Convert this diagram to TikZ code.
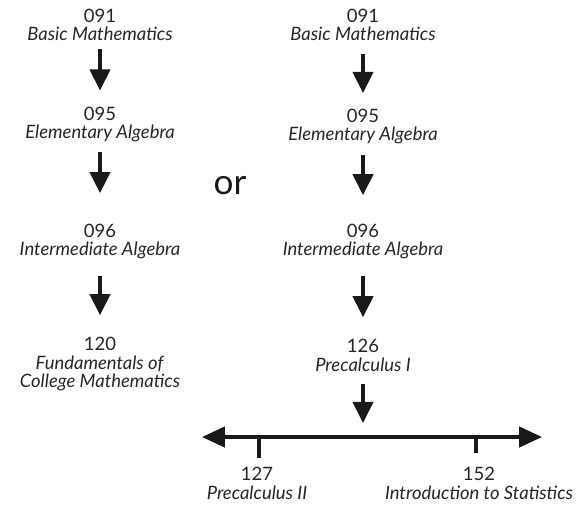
\documentclass[tikz,border=0pt]{standalone}
\usepackage{fontspec}
\setmainfont{Lato}
\usepackage{tikz}
\usetikzlibrary{arrows.meta,positioning,calc}
\tikzset{
  course/.style={
    anchor=north, align=center, inner sep=0pt,
    font=\fontsize{10.5}{10.4}\selectfont, text=black!85
  },
  flow/.style={-{Triangle[length=12pt,width=11.5pt]}, line width=2.1pt, color=black!90},
  track/.style={{Triangle[length=13pt,width=11.5pt]}-{Triangle[length=13pt,width=11.5pt]},
    line width=2pt, color=black!90},
  tickmark/.style={line width=2pt, color=black!90},
}
\newcommand{\crs}[2]{#1\\\textit{#2}}

\begin{document}
\begin{tikzpicture}[x=0.02cm, y=-0.02cm]
  \useasboundingbox (0,0) rectangle (584,508);

  % Left sequence
  \node[course] (l091) at (100,9)   {\crs{091}{Basic Mathematics}};
  \node[course] (l095) at (100,107) {\crs{095}{Elementary Algebra}};
  \node[course] (l096) at (100,224) {\crs{096}{Intermediate Algebra}};
  \node[course] (l120) at (100,337) {120\\\textit{Fundamentals of}\\\textit{College Mathematics}};

  \draw[flow, shorten <=4.5pt, shorten >=9.4pt]  (l091) -- (l095);
  \draw[flow, shorten <=5.5pt, shorten >=17.6pt] (l095) -- (l096);
  \draw[flow, shorten <=9.5pt, shorten >=12.4pt] (l096) -- (l120);

  \node[font=\fontsize{20}{24}\selectfont, text=black!90] (or) at (230,186) {or};

  % Right sequence
  \node[course] (r091) at (363,9)   {\crs{091}{Basic Mathematics}};
  \node[course] (r095) at (363,109) {\crs{095}{Elementary Algebra}};
  \node[course] (r096) at (363,224) {\crs{096}{Intermediate Algebra}};
  \node[course] (r126) at (363,339) {\crs{126}{Precalculus I}};

  \draw[flow, shorten <=7pt,   shorten >=9.1pt]  (r091) -- (r095);
  \draw[flow, shorten <=5.8pt, shorten >=16.4pt] (r095) -- (r096);
  \draw[flow, shorten <=9.5pt, shorten >=12.4pt] (r096) -- (r126);

  % Branch line
  \coordinate (lineL) at (202,437);
  \coordinate (lineR) at (542,437);
  \coordinate (hub)   at (363,437);
  \coordinate (t127)  at (259,437);
  \coordinate (t152)  at (476,437);

  \draw[flow, shorten <=7pt, shorten >=8pt] (r126) -- (hub);
  \draw[track] (lineL) -- (lineR);

  \node[course] (b127) at (257,467) {\crs{127}{Precalculus II}};
  \node[course] (b152) at (479,467) {\crs{152}{Introduction to Statistics}};

  \draw[tickmark, shorten >=5.4pt] (t127) -- (t127 |- b127.north);
  \draw[tickmark, shorten >=7.7pt] (t152) -- (t152 |- b152.north);

\end{tikzpicture}
\end{document}
